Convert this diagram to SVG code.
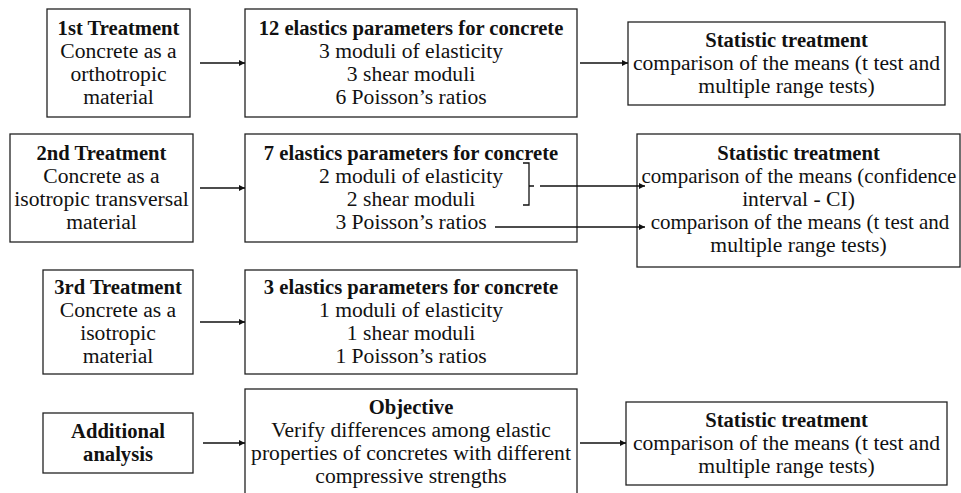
<svg xmlns="http://www.w3.org/2000/svg" width="961" height="493" viewBox="0 0 961 493">
<style>
.box{fill:#fff;stroke:#222;stroke-width:1.3}
text{font-size:21.6px;fill:#111;text-anchor:middle}
.b{font-weight:bold;font-size:20.6px}
.s{font-size:21px}
.conn{stroke:#111;stroke-width:1.3;fill:none}
</style>
<defs>
<marker id="ah" viewBox="0 0 10 10" refX="10" refY="5" markerWidth="6" markerHeight="6" markerUnits="userSpaceOnUse" orient="auto">
<path d="M0,0 L10,5 L0,10 z" fill="#111"/>
</marker>
</defs>
<rect width="961" height="493" fill="#fff"/>
<g font-family="Liberation Serif, serif">
<g id="t1">
<rect class="box" x="47" y="9" width="143" height="108"/>
<text x="118.5" y="35" class="b">1st Treatment</text>
<text x="118.5" y="58">Concrete as a</text>
<text x="118.5" y="81">orthotropic</text>
<text x="118.5" y="104">material</text>
</g>
<g id="p12">
<rect class="box" x="245" y="9" width="332" height="108"/>
<text x="411" y="35" class="b">12 elastics parameters for concrete</text>
<text x="411" y="58">3 moduli of elasticity</text>
<text x="411" y="81">3 shear moduli</text>
<text x="411" y="104">6 Poisson’s ratios</text>
</g>
<g id="s1">
<rect class="box" x="628" y="22" width="317" height="83"/>
<text x="786.5" y="47" class="b">Statistic treatment</text>
<text x="786.5" y="70">comparison of the means (t test and</text>
<text x="786.5" y="93">multiple range tests)</text>
</g>

<g id="t2">
<rect class="box" x="10" y="134" width="183" height="108"/>
<text x="101.5" y="160" class="b">2nd Treatment</text>
<text x="101.5" y="183">Concrete as a</text>
<text x="101.5" y="206">isotropic transversal</text>
<text x="101.5" y="229">material</text>
</g>
<g id="p7">
<rect class="box" x="245" y="134" width="332" height="108"/>
<text x="411" y="160" class="b">7 elastics parameters for concrete</text>
<text x="411" y="183">2 moduli of elasticity</text>
<text x="411" y="206">2 shear moduli</text>
<text x="411" y="229">3 Poisson’s ratios</text>
</g>
<g id="s2">
<rect class="box" x="637" y="134" width="323" height="133"/>
<text x="798.5" y="160" class="b">Statistic treatment</text>
<text x="799" y="183" class="s">comparison of the means (confidence</text>
<text x="798.5" y="206">interval - CI)</text>
<text x="800" y="229" class="s">comparison of the means (t test and</text>
<text x="798.5" y="252">multiple range tests)</text>
</g>

<g id="t3">
<rect class="box" x="43" y="270" width="150" height="104"/>
<text x="118" y="294" class="b">3rd Treatment</text>
<text x="118" y="317">Concrete as a</text>
<text x="118" y="340">isotropic</text>
<text x="118" y="363">material</text>
</g>
<g id="p3">
<rect class="box" x="245" y="270" width="332" height="104"/>
<text x="411" y="294" class="b">3 elastics parameters for concrete</text>
<text x="411" y="317">1 moduli of elasticity</text>
<text x="411" y="340">1 shear moduli</text>
<text x="411" y="363">1 Poisson’s ratios</text>
</g>

<g id="add">
<rect class="box" x="43" y="413" width="150" height="60"/>
<text x="118" y="438" class="b">Additional</text>
<text x="118" y="461" class="b">analysis</text>
</g>
<g id="obj">
<rect class="box" x="245" y="389" width="332" height="120"/>
<text x="411" y="414" class="b">Objective</text>
<text x="411" y="437">Verify differences among elastic</text>
<text x="411" y="460">properties of concretes with different</text>
<text x="411" y="483">compressive strengths</text>
</g>
<g id="s4">
<rect class="box" x="626" y="402" width="321" height="83"/>
<text x="786.5" y="427" class="b">Statistic treatment</text>
<text x="786.5" y="450">comparison of the means (t test and</text>
<text x="786.5" y="473">multiple range tests)</text>
</g>
</g>
<g id="connectors">
<line class="conn" x1="200" y1="63" x2="245" y2="63" marker-end="url(#ah)"/>
<line class="conn" x1="580" y1="63" x2="628" y2="63" marker-end="url(#ah)"/>
<line class="conn" x1="200" y1="188" x2="245" y2="188" marker-end="url(#ah)"/>
<path class="conn" d="M523,163 H529 V205 H523 M529,186 H534"/>
<line class="conn" x1="540" y1="186" x2="645" y2="186" marker-end="url(#ah)"/>
<line class="conn" x1="495" y1="227" x2="645" y2="227" marker-end="url(#ah)"/>
<line class="conn" x1="200" y1="322" x2="245" y2="322" marker-end="url(#ah)"/>
<line class="conn" x1="203" y1="443" x2="245" y2="443" marker-end="url(#ah)"/>
<line class="conn" x1="580" y1="443" x2="626" y2="443" marker-end="url(#ah)"/>
</g>
</svg>
